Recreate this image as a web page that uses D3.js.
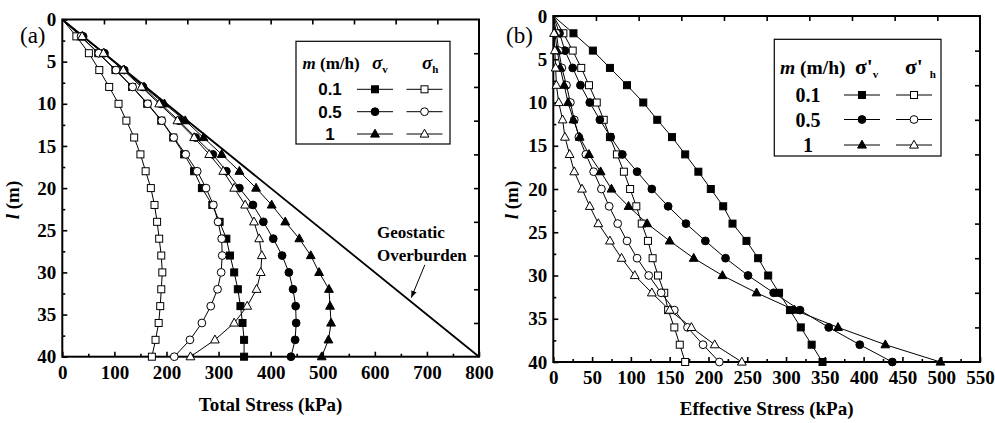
<!DOCTYPE html>
<html><head><meta charset="utf-8">
<script src="https://cdn.jsdelivr.net/npm/d3@7/dist/d3.min.js"></script>
<style>
body{margin:0;background:#fff}
svg{display:block;background:#fff}
</style>
</head><body>
<svg id="c" width="995" height="423"></svg>
<script>
// ---------------- data ----------------
const depth = [0,2,4,6,8,10,12,14,16,18,20,22,24,26,28,30,32,34,36,38,40];

// (a) total stress, kPa
const totalSv01 = [0,35,69,102,134,163,190,213,234,253,268,288,302,315,322,330,337,342,346,349,349];
const totalSh01 = [0,27,51,71,90,108,123,138,150,160,170,177,182,186,190,192,190,188,185,179,172];
const totalSv05 = [0,40,81,119,155,189,224,256,289,315,340,366,386,405,422,435,443,448,449,447,439];
const totalSh05 = [0,36,70,103,135,164,191,214,237,259,276,290,299,306,307,305,298,285,268,245,215];
const totalSv1  = [0,39,80,119,157,196,236,271,306,340,372,402,428,455,477,493,512,514,516,511,498];
const totalSh1  = [0,38,79,117,152,186,221,253,282,309,330,351,368,378,383,381,373,355,330,293,246];
const geoStress = [0,800];
const geoDepth  = [0,40];

// (b) effective stress, kPa
const effSv01 = [0,26,51,73,95,116,134,153,170,187,203,219,231,249,264,277,291,305,319,333,347];
const effSh01 = [0,13,25,36,46,56,65,73,82,91,99,107,114,122,128,135,143,148,156,163,170];
const effSv05 = [0,8,15,25,35,47,60,74,89,108,127,148,171,196,222,251,284,318,355,395,437];
const effSh05 = [0,4,7,11,17,22,27,33,42,52,62,72,83,95,108,123,139,156,173,193,214];
const effSv1  = [0,2,5,9,14,19,26,34,46,61,75,97,121,150,181,218,262,311,367,428,499];
const effSh1  = [0,1,2,3,4,7,12,15,21,27,37,47,58,73,88,105,127,150,178,208,243];

// ticks
const xTicksA = [0,100,200,300,400,500,600,700,800];
const xMinorA = [50,150,250,350,450,550,650,750];
const xTopA   = [80,160,240,320,400,480,560,640,720];
const xTicksB = [0,50,100,150,200,250,300,350,400,450,500,550];
const xMinorB = [25,75,125,175,225,275,325,375,425,475,525];
const xTopB   = [55,110,165,220,275,330,385,440,495];
const yTicks  = [0,5,10,15,20,25,30,35,40];
const yMinor  = [2.5,7.5,12.5,17.5,22.5,27.5,32.5,37.5];
const yRight  = [4,8,12,16,20,24,28,32,36];
const rateLabels = ["0.1","0.5","1"];

// ---------------- drawing ----------------
const SERIF = "'Liberation Serif','Times New Roman',Times,serif";
const SANS  = "'Liberation Sans',Arial,Helvetica,sans-serif";
const svg = d3.select("#c");
svg.append("rect").attr("width",995).attr("height",423).attr("fill","#fff");

function txt(g){ return g.append("text").style("font-family",SERIF).attr("fill","#000"); }

function marker(g, type, filled, cx, cy){
  const f = filled ? "#000" : "#fff";
  let m;
  if(type==="square"){
    m = g.append("rect").attr("x",cx-3.5).attr("y",cy-3.5).attr("width",7).attr("height",7);
  } else if(type==="circle"){
    m = g.append("circle").attr("cx",cx).attr("cy",cy).attr("r",3.9);
  } else {
    m = g.append("path").attr("d",`M${cx},${cy-4.8}L${cx+4.4},${cy+3.1}L${cx-4.4},${cy+3.1}Z`);
  }
  m.attr("fill",f).attr("stroke","#000").attr("stroke-width",1);
}

function panel(cfg){
  const x = d3.scaleLinear().domain(cfg.xDomain).range([cfg.left,cfg.right]);
  const y = d3.scaleLinear().domain([0,40]).range([cfg.top,cfg.bottom]);
  const g = svg.append("g");

  function styleAxis(sel){
    sel.select(".domain").remove();
    sel.selectAll(".tick line").attr("stroke","#000").attr("stroke-width",1.6);
    sel.selectAll("text").attr("font-size",19).attr("font-weight","bold")
       .style("font-family",SERIF).attr("fill","#000");
  }
  g.append("g").attr("transform",`translate(0,${cfg.bottom})`)
    .call(d3.axisBottom(x).tickValues(cfg.xTicks).tickSize(-5).tickSizeOuter(0).tickPadding(9).tickFormat(d3.format("d"))).call(styleAxis);
  g.append("g").attr("transform",`translate(0,${cfg.bottom})`)
    .call(d3.axisBottom(x).tickValues(cfg.xMinor).tickSize(-3).tickSizeOuter(0).tickFormat("")).call(styleAxis);
  g.append("g").attr("transform",`translate(${cfg.left},0)`)
    .call(d3.axisLeft(y).tickValues(yTicks).tickSize(-5).tickSizeOuter(0).tickPadding(6).tickFormat(d3.format("d"))).call(styleAxis);
  g.append("g").attr("transform",`translate(${cfg.left},0)`)
    .call(d3.axisLeft(y).tickValues(yMinor).tickSize(-3).tickSizeOuter(0).tickFormat("")).call(styleAxis);
  g.append("g").attr("transform",`translate(0,${cfg.top})`)
    .call(d3.axisTop(x).tickValues(cfg.xTop).tickSize(-5).tickSizeOuter(0).tickFormat("")).call(styleAxis);
  g.append("g").attr("transform",`translate(${cfg.right},0)`)
    .call(d3.axisRight(y).tickValues(yRight).tickSize(-5).tickSizeOuter(0).tickFormat("")).call(styleAxis);

  g.append("rect").attr("x",cfg.left).attr("y",cfg.top)
    .attr("width",cfg.right-cfg.left).attr("height",cfg.bottom-cfg.top)
    .attr("fill","none").attr("stroke","#000").attr("stroke-width",2);

  // axis titles
  txt(g).attr("x",(cfg.left+cfg.right)/2).attr("y",cfg.titleY)
    .attr("text-anchor","middle").attr("font-size",19).attr("font-weight","bold").text(cfg.xTitle);
  const yt = txt(g).attr("transform",`translate(${cfg.yTitleX},200) rotate(-90)`)
    .attr("text-anchor","middle").attr("font-size",19).attr("font-weight","bold");
  yt.append("tspan").attr("font-style","italic").text("l");
  yt.append("tspan").text(" (m)");

  // panel tag
  txt(g).attr("x",cfg.tagX).attr("y",43).attr("font-size",23).text(cfg.tag);

  if(cfg.geo){
    g.append("path").datum(geoStress)
      .attr("d",d3.line().x(v=>x(v)).y((v,i)=>y(geoDepth[i])))
      .attr("fill","none").attr("stroke","#000").attr("stroke-width",1.8);
  }

  const line = d3.line().x(v=>x(v)).y((v,i)=>y(depth[i]));
  cfg.series.forEach(s=>{
    g.append("path").datum(s.vals).attr("d",line)
      .attr("fill","none").attr("stroke","#000").attr("stroke-width",1);
  });
  cfg.series.forEach(s=>{
    s.vals.forEach((v,i)=>{ if(depth[i]>0) marker(g,s.type,s.filled,x(v),y(depth[i])); });
  });
  return {x,y,g};
}

const A = panel({
  left:62.3,right:479,top:19.5,bottom:356.7,xDomain:[0,800],
  xTicks:xTicksA,xMinor:xMinorA,xTop:xTopA,
  xTitle:"Total Stress (kPa)",titleY:411,yTitleX:19,tag:"(a)",tagX:20,geo:true,
  series:[
    {vals:totalSv01,type:"square",filled:true},
    {vals:totalSh01,type:"square",filled:false},
    {vals:totalSv05,type:"circle",filled:true},
    {vals:totalSh05,type:"circle",filled:false},
    {vals:totalSv1,type:"triangle",filled:true},
    {vals:totalSh1,type:"triangle",filled:false}
  ]
});
const B = panel({
  left:553.3,right:980,top:16,bottom:362,xDomain:[0,550],
  xTicks:xTicksB,xMinor:xMinorB,xTop:xTopB,
  xTitle:"Effective Stress (kPa)",titleY:415,yTitleX:518,tag:"(b)",tagX:506,geo:false,
  series:[
    {vals:effSv01,type:"square",filled:true},
    {vals:effSh01,type:"square",filled:false},
    {vals:effSv05,type:"circle",filled:true},
    {vals:effSh05,type:"circle",filled:false},
    {vals:effSv1,type:"triangle",filled:true},
    {vals:effSh1,type:"triangle",filled:false}
  ]
});

// Geostatic annotation (data coordinates of panel a)
{
  const {x,y,g} = A;
  const defs = svg.append("defs");
  defs.append("marker").attr("id","arr").attr("viewBox","0 0 10 10").attr("refX",10).attr("refY",5)
    .attr("markerWidth",7).attr("markerHeight",7).attr("orient","auto").attr("markerUnits","userSpaceOnUse")
    .append("path").attr("d","M0,1L10,5L0,9Z").attr("fill","#000");
  txt(g).attr("x",x(604)).attr("y",y(25.9)).attr("font-size",17).attr("font-weight","bold").text("Geostatic");
  txt(g).attr("x",x(604)).attr("y",y(28.7)).attr("font-size",17).attr("font-weight","bold").text("Overburden");
  g.append("line").attr("x1",x(696)).attr("y1",y(29.1)).attr("x2",x(670)).attr("y2",y(33))
    .attr("stroke","#000").attr("stroke-width",1).attr("marker-end","url(#arr)");
}

// legends
function legend(L){
  const g = svg.append("g");
  g.append("rect").attr("x",L.x0).attr("y",L.y0).attr("width",L.x1-L.x0).attr("height",L.y1-L.y0)
    .attr("fill","#fff").attr("stroke","#000").attr("stroke-width",1.2);
  const h = txt(g).attr("x",L.hx).attr("y",L.hy).attr("font-size",L.hs).attr("font-weight","bold");
  h.append("tspan").attr("font-style","italic").text("m");
  h.append("tspan").text(" (m/h)");
  const s1 = txt(g).attr("x",L.s1x).attr("y",L.hy).attr("font-size",L.hs+2).attr("font-weight","bold");
  s1.append("tspan").attr("font-style",L.sigStyle).text(L.prime?"σ'":"σ");
  s1.append("tspan").attr("font-size",11).attr("dy",4).text("v");
  const s2 = txt(g).attr("x",L.s2x).attr("y",L.hy).attr("font-size",L.hs+2).attr("font-weight","bold");
  s2.append("tspan").attr("font-style",L.sigStyle).text(L.prime?"σ'":"σ");
  s2.append("tspan").attr("font-size",11).attr("dy",4).attr("dx",L.prime?7:0).text("h");
  const types = ["square","circle","triangle"];
  L.rows.forEach((ry,i)=>{
    g.append("text").attr("x",L.lx).attr("y",ry).attr("dy","0.35em").attr("text-anchor","middle")
      .attr("font-size",L.ls).attr("font-weight","bold").style("font-family",L.lfont).attr("fill","#000").text(rateLabels[i]);
    [[L.c1,true],[L.c2,false]].forEach(([c,f])=>{
      g.append("line").attr("x1",c-18).attr("x2",c+18).attr("y1",ry).attr("y2",ry).attr("stroke","#000").attr("stroke-width",1);
      marker(g,types[i],f,c,ry);
    });
  });
}
legend({x0:296,x1:450,y0:41.3,y1:144,hx:302.5,hy:69,hs:17,s1x:372,s2x:422,sigStyle:"italic",prime:false,
  rows:[89.3,111.7,134],lx:330,ls:17,lfont:SANS,c1:375,c2:424.5});
legend({x0:774.3,x1:941,y0:39.3,y1:156,hx:780,hy:74,hs:19.5,s1x:855,s2x:905,sigStyle:"normal",prime:true,
  rows:[95,119.5,145],lx:808,ls:20,lfont:SERIF,c1:862,c2:914});
</script>
</body></html>
